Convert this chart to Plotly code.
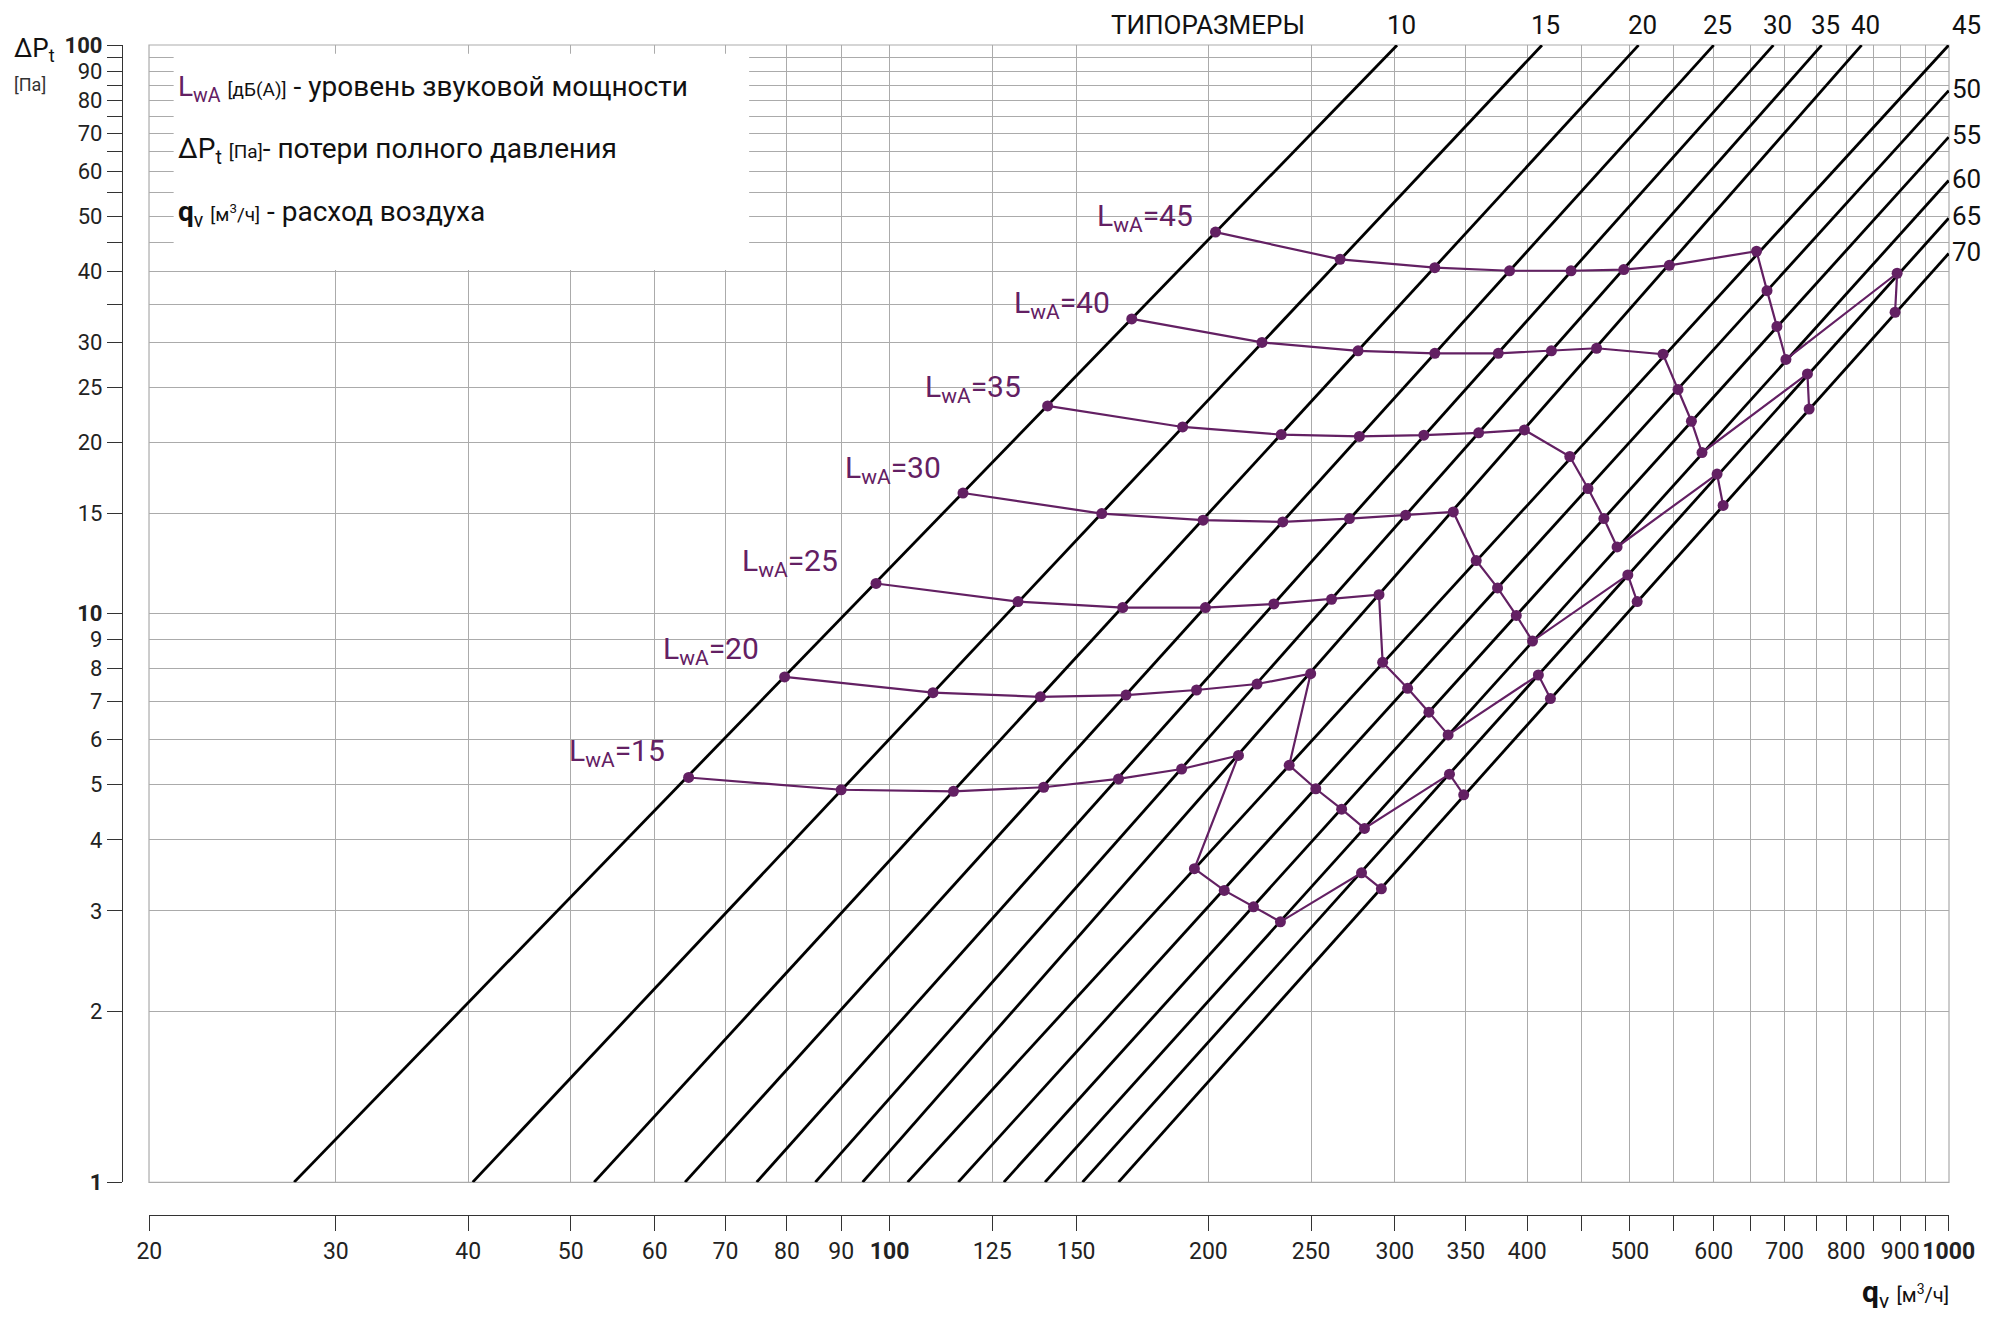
import math
import plotly.graph_objects as go

# ---------------- data ----------------
size_labels = ["10", "15", "20", "25", "30", "35", "40", "45", "50", "55", "60", "65", "70"]
line_q_start = [27.4, 40.4, 52.6, 64.1, 74.9, 85.1, 94.3, 104.0, 116.1, 128.2, 140.2, 152.1, 164.5]
line_dp_start = [1, 1, 1, 1, 1, 1, 1, 1, 1, 1, 1, 1, 1]
line_q_end = [301.4, 413.0, 509.6, 600.0, 683.2, 758.8, 827.6, 1000, 1000, 1000, 1000, 1000, 1000]
line_dp_end = [100, 100, 100, 100, 100, 100, 100, 100, 83.2, 68.9, 57.8, 49.6, 43.0]

lwa_levels = [45, 40, 35, 30, 25, 20, 15]
lwa45_q = [203.1, 266.3, 327.2, 384.9, 440.0, 493.4, 544.8, 658.5, 673.7, 688.4, 702.0, 894.0, 890.0]
lwa45_dp = [46.9, 42.0, 40.6, 40.1, 40.1, 40.3, 41.0, 43.4, 37.0, 32.0, 28.0, 39.7, 33.9]
lwa40_q = [169.3, 224.7, 276.9, 327.2, 375.6, 421.6, 465.1, 537.4, 555.2, 571.6, 584.9, 735.6, 738.3]
lwa40_dp = [33.0, 30.0, 29.0, 28.7, 28.7, 29.0, 29.3, 28.6, 24.8, 21.8, 19.2, 26.4, 22.9]
lwa35_q = [141.0, 189.1, 234.3, 277.7, 319.5, 359.9, 397.6, 438.8, 456.5, 472.5, 486.3, 604.4, 612.4]
lwa35_dp = [23.2, 21.3, 20.65, 20.5, 20.6, 20.8, 21.05, 18.9, 16.6, 14.7, 13.1, 17.6, 15.5]
lwa30_q = [117.3, 158.6, 197.7, 235.1, 271.8, 307.1, 340.6, 358.0, 375.0, 390.6, 404.6, 497.8, 508.0]
lwa30_dp = [16.3, 15.0, 14.6, 14.5, 14.7, 14.9, 15.1, 12.4, 11.1, 9.93, 8.95, 11.7, 10.5]
lwa25_q = [97.1, 132.2, 166.0, 198.7, 230.6, 261.4, 289.8, 292.1, 308.4, 323.0, 336.8, 409.8, 420.7]
lwa25_dp = [11.3, 10.5, 10.25, 10.25, 10.4, 10.6, 10.8, 8.21, 7.39, 6.71, 6.12, 7.80, 7.09]
lwa20_q = [79.6, 109.9, 138.8, 167.2, 194.9, 222.3, 249.8, 238.4, 252.6, 267.2, 280.8, 337.8, 348.4]
lwa20_dp = [7.74, 7.26, 7.14, 7.19, 7.34, 7.52, 7.84, 5.41, 4.92, 4.53, 4.19, 5.22, 4.80]
lwa15_q = [64.6, 90.0, 114.9, 139.8, 164.5, 188.7, 213.5, 194.0, 207.0, 220.6, 233.9, 279.0, 291.3]
lwa15_dp = [5.15, 4.90, 4.87, 4.95, 5.12, 5.33, 5.63, 3.56, 3.26, 3.05, 2.87, 3.50, 3.28]

lwa_label_q = [156.3, 130.5, 107.6, 90.3, 72.2, 60.8, 49.6]
lwa_label_dp = [49.8, 35.0, 24.9, 17.9, 12.3, 8.60, 5.69]

x_tickvals = [20, 30, 40, 50, 60, 70, 80, 90, 100, 125, 150, 200, 250, 300, 350, 400, 450,
              500, 550, 600, 650, 700, 750, 800, 850, 900, 950, 1000]
x_ticktext = ["20", "30", "40", "50", "60", "70", "80", "90", "<b>100</b>", "125", "150", "200",
              "250", "300", "350", "400", "", "500", "", "600", "", "700", "", "800", "", "900", "",
              "<b>1000</b>"]
y_tickvals = [1, 2, 3, 4, 5, 6, 7, 8, 9, 10, 15, 20, 25, 30, 35, 40, 45, 50, 55, 60, 65, 70,
              75, 80, 85, 90, 95, 100]
y_ticktext = ["<b>1</b>", "2", "3", "4", "5", "6", "7", "8", "9", "<b>10</b>", "15", "20", "25",
              "30", "", "40", "", "50", "", "60", "", "70", "", "80", "", "90", "", "<b>100</b>"]

legend_lines = [
    '<span style="color:#632063">L<sub>wA</sub></span> <span style="font-size:19px">[дБ(А)]</span> - уровень звуковой мощности',
    'ΔP<sub>t</sub> <span style="font-size:19px">[Па]</span>- потери полного давления',
    '<b>q</b><sub>v</sub> <span style="font-size:19px">[м<sup>3</sup>/ч]</span> - расход воздуха',
]
legend_dp = [84.0, 65.3, 50.6]
legend_q = 21.2
legend_box_q = [21.1, 73.7]
legend_box_dp = [40.2, 96.5]

# ---------------- style ----------------
FONT = "Roboto, Liberation Sans, sans-serif"
PURPLE = "#632063"
GRID = "#ababab"
lg = math.log10

W, H = 1979, 1304
ML, MR, MT, MB = 114, 32, 37, 97
x_dom0 = (141.1 - ML) / (W - ML - MR)
y_dom0 = ((H - MB) - 1174.3) / (H - MT - MB)


def fx(q):
    return (lg(q) - lg(20)) / (3 - lg(20))


def fy(p):
    return lg(p) / 2


fig = go.Figure()

# size lines
lx, ly = [], []
for qs, ps, qe, pe in zip(line_q_start, line_dp_start, line_q_end, line_dp_end):
    lx += [qs, qe, None]
    ly += [ps, pe, None]
fig.add_trace(go.Scatter(x=lx, y=ly, mode="lines", line=dict(color="black", width=2.8),
                         hoverinfo="skip", showlegend=False))

lwa_data = {
    45: (lwa45_q, lwa45_dp), 40: (lwa40_q, lwa40_dp), 35: (lwa35_q, lwa35_dp),
    30: (lwa30_q, lwa30_dp), 25: (lwa25_q, lwa25_dp), 20: (lwa20_q, lwa20_dp),
    15: (lwa15_q, lwa15_dp),
}
for lev in lwa_levels:
    qv, dp = lwa_data[lev]
    fig.add_trace(go.Scatter(x=qv, y=dp, mode="lines+markers",
                             line=dict(color=PURPLE, width=2.2),
                             marker=dict(color=PURPLE, size=11),
                             showlegend=False, name=f"LwA={lev}"))

ann = []
for lev, q, p in zip(lwa_levels, lwa_label_q, lwa_label_dp):
    ann.append(dict(x=lg(q), y=lg(p), xref="x", yref="y", xanchor="left", yanchor="middle",
                    text=f"L<sub>wA</sub>={lev}", showarrow=False,
                    font=dict(family=FONT, size=30, color=PURPLE)))

for txt, p in zip(legend_lines, legend_dp):
    ann.append(dict(x=lg(legend_q), y=lg(p), xref="x", yref="y", xanchor="left", yanchor="middle",
                    text=txt, showarrow=False, font=dict(family=FONT, size=28, color="#111")))

# size labels
for lab, qe, pe in zip(size_labels, line_q_end, line_dp_end):
    if pe >= 100 and qe < 1000:
        ann.append(dict(x=lg(qe), y=1, xref="x", yref="paper", xanchor="center", yanchor="middle",
                        yshift=20, xshift=4, text=lab, showarrow=False,
                        font=dict(family=FONT, size=26, color="#111")))
    elif pe >= 100:
        ann.append(dict(x=lg(qe), y=1, xref="x", yref="paper", xanchor="left", yanchor="middle",
                        yshift=20, xshift=1, text=lab, showarrow=False,
                        font=dict(family=FONT, size=26, color="#111")))
    else:
        ann.append(dict(x=lg(qe), y=lg(pe), xref="x", yref="y", xanchor="left", yanchor="middle",
                        xshift=1, yshift=2, text=lab, showarrow=False,
                        font=dict(family=FONT, size=26, color="#111")))
ann.append(dict(x=lg(200), y=1, xref="x", yref="paper", xanchor="center", yanchor="middle",
                yshift=20, text="ТИПОРАЗМЕРЫ", showarrow=False,
                font=dict(family=FONT, size=26, color="#111")))

# axis titles
ann.append(dict(x=0, y=1, xref="paper", yref="paper", xanchor="left", yanchor="middle",
                xshift=-110, yshift=-4, text="ΔP<sub>t</sub>", showarrow=False,
                font=dict(family=FONT, size=26, color="#111")))
ann.append(dict(x=0, y=1, xref="paper", yref="paper", xanchor="left", yanchor="middle",
                xshift=-110, yshift=-39, text="[Па]", showarrow=False,
                font=dict(family=FONT, size=18, color="#333")))
ann.append(dict(x=1, y=0, xref="paper", yref="paper", xanchor="right", yanchor="middle",
                yshift=-78, xshift=2, text='<b>q</b><sub>v</sub> <span style="font-size:20px">[м<sup>3</sup>/ч]</span>',
                showarrow=False, font=dict(family=FONT, size=30, color="#111")))

shapes = [
    dict(type="rect", xref="x domain", yref="y domain", x0=fx(legend_box_q[0]), x1=fx(legend_box_q[1]),
         y0=fy(legend_box_dp[0]), y1=fy(legend_box_dp[1]), fillcolor="white",
         line=dict(width=0), layer="above"),
    dict(type="rect", xref="x domain", yref="y domain", x0=0, x1=1, y0=0, y1=1,
         line=dict(color=GRID, width=1.2), layer="below"),
]

axis_common = dict(type="log", showline=True, linecolor="#333", linewidth=1.4, ticks="outside",
                   ticklen=15, tickwidth=1.2, tickcolor="#333", showgrid=True, gridcolor=GRID,
                   gridwidth=1.2, zeroline=False, anchor="free", position=0,
                   ticklabeloverflow="allow")

fig.update_layout(
    width=W, height=H,
    margin=dict(l=ML, r=MR, t=MT, b=MB, pad=0),
    paper_bgcolor="white", plot_bgcolor="white",
    showlegend=False,
    xaxis=dict(range=[lg(20) - 0.0003, 3.0003], domain=[x_dom0, 1], tickvals=x_tickvals,
               ticktext=x_ticktext, tickfont=dict(family=FONT, size=23, color="#222"), **axis_common),
    yaxis=dict(range=[-0.0003, 2.0003], domain=[y_dom0, 1], tickvals=y_tickvals, ticktext=y_ticktext,
               tickfont=dict(family=FONT, size=22, color="#222"), **axis_common),
    annotations=ann,
    shapes=shapes,
)

fig.write_html("out.html")
